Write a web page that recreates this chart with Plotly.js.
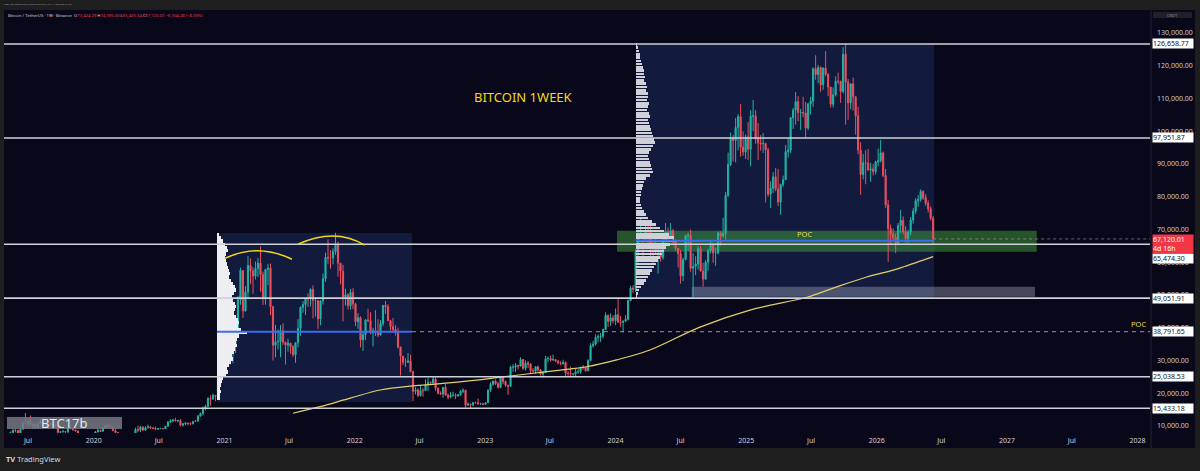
<!DOCTYPE html>
<html><head><meta charset="utf-8">
<script src="https://cdn.plot.ly/plotly-3.0.1.min.js"></script>
<style>html,body{margin:0;padding:0;background:#1e1e1e;}#chart{width:1200px;height:471px;}</style>
</head><body><div id="chart"></div>
<script>
// ================= DATA =================
const firstWeek = '2019-04-29';   // Monday of first weekly candle
const firstOpenK = 5.27;
// weekly highs / lows / closes in thousands USDT (one row per year)
const weekHighK = [
 5.90,7.45,8.32,8.95,9.07,8.80,9.35,11.30,13.97,12.00,13.20,11.10,10.65,11.08,12.33,11.47,10.95,10.63,10.95,10.50,10.35,10.06,8.49,8.84,8.40,10.54,9.90,9.50,8.85,8.50,7.87,7.75,7.62,7.52,7.70,7.50,
 8.47,9.19,8.88,9.59,10.17,10.50,10.25,9.70,9.19,8.18,6.90,6.85,7.20,7.46,7.30,7.79,9.50,10.07,9.95,9.85,9.96,10.43,10.05,9.63,9.80,9.35,9.47,9.29,9.98,11.45,12.09,12.07,12.47,11.80,12.09,10.80,11.18,10.99,11.08,11.49,11.72,13.35,14.09,15.96,16.48,18.80,19.42,19.92,19.43,24.30,27.00,33.30,
 41.95,40.10,37.85,38.60,40.95,49.71,58.35,57.53,52.64,61.84,61.18,58.50,60.20,61.30,64.85,57.20,58.00,59.50,59.60,46.66,40.90,39.48,40.78,41.33,35.75,36.68,35.10,34.70,35.50,42.60,46.45,48.14,49.05,50.50,52.00,52.92,48.84,48.38,48.36,56.56,62.93,67.00,63.71,64.25,69.00,66.28,59.50,59.20,51.94,50.50,51.88,52.10,
 47.57,44.45,43.50,38.92,42.60,45.82,44.75,40.00,45.40,42.59,42.33,46.90,48.19,47.20,42.43,42.98,40.80,40.02,34.30,31.33,30.66,32.22,31.77,26.90,21.87,21.55,22.50,21.66,24.28,24.67,23.65,25.21,25.13,21.80,20.58,21.86,22.80,19.96,20.35,20.47,19.95,19.70,20.99,21.48,21.06,17.19,16.80,17.39,17.43,18.39,17.06,16.94,
 17.18,21.26,23.37,23.82,24.25,23.47,25.25,25.02,23.89,22.60,28.39,28.87,29.19,28.78,31.00,30.48,30.04,29.82,29.15,27.66,28.26,28.45,27.40,26.80,31.43,31.28,31.50,31.80,30.40,30.10,29.74,30.24,29.69,26.83,28.14,26.12,27.48,27.49,28.05,28.58,28.00,30.35,35.28,35.98,37.98,37.93,38.41,39.70,44.70,44.05,44.40,43.80,
 45.88,48.97,43.58,42.25,43.88,48.60,52.82,52.99,64.00,69.99,73.78,68.92,71.77,71.34,72.80,66.87,67.23,64.73,65.50,67.70,71.98,70.60,71.95,70.20,66.99,62.79,63.78,61.42,68.38,68.99,70.00,62.75,61.84,65.00,64.96,59.81,60.67,64.13,66.50,65.55,64.48,69.40,69.52,73.62,81.50,93.47,99.59,98.87,104.09,105.25,108.35,99.96,98.98,
 102.72,106.42,109.59,106.46,102.50,98.83,99.47,96.50,95.00,84.72,87.47,88.75,88.50,83.99,86.49,95.76,97.90,104.36,107.10,111.98,110.72,106.80,110.53,108.95,108.53,110.53,119.50,123.22,120.25,119.80,119.50,124.47,117.63,113.50,113.38,116.78,117.90,115.47,125.71,126.65877,115.97,114.00,116.40,110.80,107.50,96.64,93.09,94.17,94.60,90.40,90.00,91.00,
 94.70,97.30,93.80,88.50,79.00,71.50,70.30,68.80,72.00,76.00,74.00,71.00,69.90,73.80,76.50,79.60,80.50,82.30,82.00,80.80,78.90,77.00,74.095
];
const weekLowK = [
 5.20,5.62,6.87,7.53,8.10,7.43,7.52,8.95,10.30,9.61,10.10,9.07,9.11,9.38,10.78,9.42,9.74,9.32,10.30,9.85,9.56,7.71,7.86,8.00,7.92,7.30,8.98,8.67,8.32,6.79,6.53,7.20,7.05,6.44,7.08,6.87,
 7.35,8.12,8.24,8.34,9.12,9.90,9.30,8.45,7.98,3.78,4.44,5.68,5.86,6.75,6.46,6.81,7.68,8.12,8.16,8.64,8.63,9.27,9.26,9.10,8.82,8.94,9.05,9.05,9.12,9.92,10.99,11.13,11.37,11.12,9.88,9.82,10.20,10.14,10.37,10.52,11.22,11.40,12.88,13.20,14.83,15.76,16.19,18.10,17.57,19.03,21.82,26.08,
 27.68,30.42,28.85,29.24,32.30,37.35,47.00,43.00,44.95,49.28,53.27,50.31,54.75,55.47,51.00,47.00,47.04,53.00,43.83,30.00,31.00,33.38,31.00,34.80,28.80,32.70,32.08,31.02,29.28,34.00,37.50,44.60,43.90,46.35,46.51,42.83,43.37,39.60,40.75,47.10,54.05,59.55,58.00,59.40,62.28,55.60,53.26,42.00,46.75,45.50,45.56,45.68,
 40.50,39.65,34.01,32.92,36.25,41.70,38.00,34.32,37.45,37.16,37.55,40.50,44.20,42.11,39.20,38.53,37.58,33.71,25.40,28.63,28.02,29.30,26.56,17.62,19.63,18.78,19.04,18.91,20.74,20.71,22.42,22.66,20.76,19.60,19.52,18.54,19.32,18.13,18.47,19.00,18.19,18.90,19.24,20.05,15.59,16.25,15.48,16.00,16.85,16.56,16.40,16.33,
 16.50,17.10,20.40,22.29,22.50,21.45,21.53,22.75,21.97,19.55,21.92,26.60,26.52,27.20,28.17,27.13,26.94,27.66,25.81,26.35,25.87,26.60,25.35,24.80,26.26,29.50,29.70,29.95,29.51,28.86,28.59,28.70,25.17,25.35,25.33,25.37,24.90,26.01,26.00,27.16,26.56,26.78,29.85,33.94,34.52,35.56,35.63,36.78,39.45,40.22,40.54,41.30,
 40.75,41.50,40.28,38.55,41.80,42.26,48.15,50.52,50.90,59.00,68.20,60.77,66.43,64.49,60.66,59.60,62.79,56.55,60.19,60.75,66.10,66.62,67.60,65.08,63.38,58.40,53.48,54.26,60.63,63.45,57.12,49.00,56.08,57.80,57.20,52.55,54.58,57.49,62.68,59.83,58.95,62.40,65.06,67.47,66.83,79.97,89.38,90.79,90.50,94.15,92.23,92.52,91.53,
 91.20,89.26,100.05,96.15,91.23,94.09,93.39,78.26,80.05,76.60,81.13,81.64,77.15,74.51,83.00,85.15,91.97,93.38,100.72,102.00,103.07,100.37,104.30,98.20,100.35,105.10,107.42,115.74,114.72,112.00,112.65,116.80,110.68,107.25,107.27,110.61,114.38,108.65,111.55,102.00,103.53,106.67,106.30,98.94,93.00,80.60,85.27,83.82,87.80,84.50,86.55,86.80,
 89.30,90.50,86.00,76.50,60.10,65.50,66.80,62.80,65.20,69.00,68.50,66.00,65.90,68.20,71.80,74.80,77.00,78.50,79.00,77.20,75.20,72.80,65.42034
];
const weekCloseK = [
 5.72,6.97,8.00,8.73,8.65,7.63,8.98,10.85,10.82,11.47,10.19,10.58,9.48,10.81,11.28,10.21,10.14,10.37,10.33,10.30,10.04,8.05,8.21,8.31,8.23,9.55,9.20,8.80,8.50,7.05,7.40,7.51,7.08,7.51,7.25,7.36,
 8.18,8.70,8.37,9.35,10.15,9.92,9.66,8.53,8.03,5.36,5.82,5.88,6.78,6.86,7.12,7.70,8.88,8.72,9.68,8.72,9.45,9.67,9.38,9.30,9.01,9.23,9.23,9.16,9.93,11.19,11.58,11.85,11.64,11.71,10.26,10.68,10.92,10.77,10.67,11.38,11.50,13.03,13.80,15.48,15.96,18.41,18.18,19.36,19.15,23.85,26.47,32.17,
 38.15,35.83,32.26,34.26,38.80,48.58,57.49,45.14,50.97,59.02,57.35,55.78,58.12,59.75,56.20,49.07,57.80,58.24,46.43,34.66,35.68,35.80,39.10,35.60,34.70,35.29,34.26,31.78,35.40,39.86,46.29,47.07,48.95,48.81,51.75,48.31,48.30,42.70,48.20,54.95,61.53,61.31,61.30,63.27,65.50,59.70,57.27,49.38,50.10,46.70,50.80,47.30,
 41.86,43.08,36.28,37.92,42.41,42.20,38.40,39.10,38.42,37.78,41.26,46.83,46.41,42.16,40.38,39.45,38.47,34.07,31.33,29.45,29.45,29.91,26.58,20.57,21.03,19.30,20.85,20.79,22.58,23.29,23.17,24.31,21.51,20.03,19.80,21.83,19.42,18.81,19.31,19.42,19.20,19.57,20.61,20.91,16.33,16.70,16.45,17.13,17.10,16.76,16.84,16.61,
 17.13,20.88,22.71,23.73,22.93,21.78,24.64,23.56,22.43,22.13,27.98,27.99,28.45,28.32,30.30,27.59,29.23,28.91,26.93,26.75,28.08,27.11,25.84,26.34,30.53,30.59,30.17,30.29,29.85,29.29,29.06,29.41,26.09,26.01,25.86,25.88,26.53,26.53,27.98,27.92,26.85,29.99,34.53,35.01,37.06,37.36,37.45,39.46,43.80,41.93,43.00,42.15,
 43.94,41.73,41.58,42.03,42.58,48.30,52.14,51.73,63.11,68.36,68.39,67.21,69.65,69.36,65.66,64.94,63.12,63.89,61.48,66.27,69.29,67.77,69.64,66.22,64.25,62.68,55.85,60.80,68.16,68.25,58.16,58.71,59.49,64.16,57.30,54.84,59.99,63.58,65.63,62.84,62.85,69.00,68.00,68.75,80.44,89.85,97.90,97.19,101.17,104.46,95.19,93.71,98.31,
 94.52,104.56,104.74,97.70,96.46,96.15,96.26,94.27,80.73,82.58,86.08,82.39,78.37,83.76,85.18,93.75,94.28,104.12,106.45,109.03,105.70,105.73,105.55,100.96,108.39,109.20,119.09,117.30,119.45,114.20,119.29,117.40,113.49,108.25,111.14,115.27,115.23,112.15,123.51,115.07,108.64,114.47,110.54,104.72,94.26,86.83,90.40,90.29,88.20,88.50,87.70,90.60,
 91.00,93.40,86.50,77.50,70.30,68.50,67.50,65.80,71.20,72.80,69.30,67.20,69.20,72.90,75.60,78.80,79.20,81.60,79.80,78.00,76.30,73.42429,67.12001
];

// horizontal levels drawn across the chart
const levelPrices = [126658.77, 97951.87, 65474.30, 49051.91, 25038.53, 15433.18];
const levelLabels = ['126,658.77','97,951.87','65,474.30','49,051.91','25,038.53','15,433.18'];
const pocOldPrice = 38791.65, pocOldLabel = '38,791.65';
const pocNewPrice = 66600;
const lastPrice = 67120.01, lastPriceLabel = '67,120.01', candleTimer = '4d 16h';

// volume profile 1 (Dec 2020 – Jun 2022): bin centres (k) and relative volume
const profileOldPricesK = [68.5,67.5,66.5,65.5,64.5,63.5,62.5,61.5,60.5,59.5,58.5,57.5,56.5,55.5,54.5,53.5,52.5,51.5,50.5,49.5,48.5,47.5,46.5,45.5,44.5,43.5,42.5,41.5,40.5,39.5,38.5,37.5,36.5,35.5,34.5,33.5,32.5,31.5,30.5,29.5,28.5,27.5,26.5,25.5,24.5,23.5,22.5,21.5,20.5,19.5,18.5];
const profileOldVol = [2,4,6,8,10,11,9,8,9,10,11,12,13,12,14,16,18,19,17,15,16,18,19,18,17,19,21,22,21,24,30,22,20,19,20,18,17,15,16,14,12,10,11,9,6,5,4,3,4,3,3];
// volume profile 2 (Feb 2024 – Jun 2026)
const profileNewPricesK = [126.5,125.5,124.5,123.5,122.5,121.5,120.5,119.5,118.5,117.5,116.5,115.5,114.5,113.5,112.5,111.5,110.5,109.5,108.5,107.5,106.5,105.5,104.5,103.5,102.5,101.5,100.5,99.5,98.5,97.5,96.5,95.5,94.5,93.5,92.5,91.5,90.5,89.5,88.5,87.5,86.5,85.5,84.5,83.5,82.5,81.5,80.5,79.5,78.5,77.5,76.5,75.5,74.5,73.5,72.5,71.5,70.5,69.5,68.5,67.5,66.5,65.5,64.5,63.5,62.5,61.5,60.5,59.5,58.5,57.5,56.5,55.5,54.5,53.5,52.5,51.5,50.5,49.5];
const profileNewVol = [1,2,3,4,4,5,6,7,8,8,9,8,10,11,10,12,12,11,13,12,11,13,14,12,13,14,15,16,17,18,19,17,15,13,12,13,14,15,16,17,14,10,8,7,6,5,5,4,4,5,6,8,10,12,16,20,24,28,33,38,40,34,30,28,26,24,22,20,18,16,14,12,10,8,5,3,2,1];

// long moving average
const maDates  = ['2021-07-12','2021-09-26','2021-12-19','2022-03-13','2022-06-05','2022-08-08','2022-11-10','2023-02-12','2023-05-15','2023-08-17','2023-10-12','2024-01-04','2024-04-06','2024-08-24','2025-01-11','2025-06-19','2025-09-01','2025-12-04','2026-02-16','2026-03-20','2026-06-08'];
const maValues = [13900,15900,18500,21000,22200,22700,23700,24900,26100,27300,28100,30200,33200,40200,45400,49300,52100,55500,57600,58700,61700];

// axes
const xTickVals = ['2019-07-01','2020-01-01','2020-07-01','2021-01-01','2021-07-01','2022-01-01','2022-07-01','2023-01-01','2023-07-01','2024-01-01','2024-07-01','2025-01-01','2025-07-01','2026-01-01','2026-07-01','2027-01-01','2027-07-01','2028-01-01'];
const xTickText = ['Jul','2020','Jul','2021','Jul','2022','Jul','2023','Jul','2024','Jul','2025','Jul','2026','Jul','2027','Jul','2028'];
const yTickVals = [10000,20000,30000,40000,50000,60000,70000,80000,90000,100000,110000,120000,130000];
const yTickText = ['10,000.00','20,000.00','30,000.00','40,000.00','50,000.00','60,000.00','70,000.00','80,000.00','90,000.00','100,000.00','110,000.00','120,000.00','130,000.00'];
const xRange = ['2019-04-25','2028-02-05'];
const yRange = [7863, 137023];

// drawings: boxes [x0,x1,y0,y1]
const boxOld = ['2020-12-11','2022-06-10',17330,68930];
const boxNew = ['2024-02-27','2026-06-11',49051.91,126658.77];
const pocZone = ['2024-01-05','2027-03-25',63220,69630];
const grayZone = ['2024-08-01','2027-03-20',49480,52540];
// arcs: start, peak, end as [date, price]
const arcs = [
  [['2021-01-03',61200],['2021-04-06',63530],['2021-07-09',60900]],
  [['2021-07-27',65570],['2021-11-02',68015],['2022-01-28',65270]]
];

// ================= BUILD =================
const UP = '#22b3a2', DN = '#e8505f', FONT = 'Noto Sans, DejaVu Sans, sans-serif';
const W = 1200, H = 471, M = {l:4, r:50, t:10, b:38};
const pw = W - M.l - M.r, ph = H - M.t - M.b;
const px2x = p => (p - M.l) / pw, px2y = p => (H - M.b - p) / ph;
const X0 = Date.parse(xRange[0]), X1 = Date.parse(xRange[1]);
const d2x = d => (Date.parse(d) - X0) / (X1 - X0);
const v2y = v => (v - yRange[0]) / (yRange[1] - yRange[0]);

const closes = weekCloseK.map(v => v * 1000);
const highs = weekHighK.map(v => v * 1000);
const lows = weekLowK.map(v => v * 1000);
const opens = closes.map((c, i) => i === 0 ? firstOpenK * 1000 : closes[i - 1]);
const t0 = Date.parse(firstWeek);
const dates = closes.map((_, i) => new Date(t0 + i * 7 * 86400000).toISOString().slice(0, 10));
const lastDate = dates[dates.length - 1];

function volRange(leftDate) { const f = d2x(leftDate); return [-f * pw, (1 - f) * pw]; }

const traces = [
  {type:'candlestick', x:dates, open:opens, high:highs, low:lows, close:closes,
   increasing:{line:{color:UP, width:1}, fillcolor:UP},
   decreasing:{line:{color:DN, width:1}, fillcolor:DN},
   whiskerwidth:0, hoverinfo:'skip', showlegend:false},
  {type:'scatter', mode:'lines', x:maDates, y:maValues, line:{color:'#e2cf6a', width:1.2, shape:'spline'},
   hoverinfo:'skip', showlegend:false},
  {type:'bar', orientation:'h', y:profileOldPricesK.map(v => v * 1000), x:profileOldVol, width:1000,
   marker:{color:'#eeeef2', line:{width:0}}, xaxis:'x2', yaxis:'y', hoverinfo:'skip', showlegend:false},
  {type:'bar', orientation:'h', y:profileNewPricesK.map(v => v * 1000), x:profileNewVol, width:780,
   marker:{color:'#cfd0d8', line:{width:0}}, xaxis:'x3', yaxis:'y', hoverinfo:'skip', showlegend:false}
];

const shapes = [];
// pane background
shapes.push({type:'rect', xref:'paper', yref:'paper', x0:px2x(4), x1:px2x(1195), y0:px2y(448), y1:1,
  fillcolor:'#09081a', line:{width:0}, layer:'below'});
// boxes
[boxOld, boxNew].forEach(b => shapes.push({type:'rect', xref:'x', yref:'y', x0:b[0], x1:b[1], y0:b[2], y1:b[3],
  fillcolor:'#121a3e', line:{width:0}, layer:'below'}));
shapes.push({type:'rect', xref:'x', yref:'y', x0:pocZone[0], x1:pocZone[1], y0:pocZone[2], y1:pocZone[3],
  fillcolor:'rgba(62,150,58,0.55)', line:{width:0}, layer:'below'});
shapes.push({type:'rect', xref:'x', yref:'y', x0:grayZone[0], x1:grayZone[1], y0:grayZone[2], y1:grayZone[3],
  fillcolor:'rgba(170,175,195,0.38)', line:{width:0}, layer:'below'});
// last price dotted line
shapes.push({type:'line', xref:'x', yref:'y', x0:lastDate, x1:xRange[1], y0:lastPrice, y1:lastPrice,
  line:{color:'rgba(200,160,175,0.55)', width:1, dash:'dot'}, layer:'below'});
// horizontal levels
levelPrices.forEach(p => shapes.push({type:'line', xref:'paper', yref:'y', x0:0, x1:1, y0:p, y1:p,
  line:{color:'#cfd1d8', width:1.6}, layer:'above'}));
// POC lines
shapes.push({type:'line', xref:'x', yref:'y', x0:boxOld[0], x1:boxOld[1], y0:pocOldPrice, y1:pocOldPrice,
  line:{color:'#3a6df0', width:2}, layer:'above'});
shapes.push({type:'line', xref:'x', yref:'y', x0:boxOld[1], x1:xRange[1], y0:pocOldPrice, y1:pocOldPrice,
  line:{color:'#9598a1', width:1, dash:'4px,4px'}, layer:'above'});
shapes.push({type:'line', xref:'x', yref:'y', x0:boxNew[0], x1:boxNew[1], y0:pocNewPrice, y1:pocNewPrice,
  line:{color:'#3a6df0', width:2}, layer:'above'});
// arcs
arcs.forEach(a => {
  const [s, p, e] = a.map(q => [d2x(q[0]), v2y(q[1])]);
  const cx = 2 * p[0] - (s[0] + e[0]) / 2, cy = 2 * p[1] - (s[1] + e[1]) / 2;
  shapes.push({type:'path', xref:'paper', yref:'paper',
    path:`M ${s[0]},${s[1]} Q ${cx},${cy} ${e[0]},${e[1]}`,
    line:{color:'#f0d817', width:1.6}, layer:'above'});
});
// BTC17b label box
shapes.push({type:'rect', xref:'paper', yref:'paper', x0:px2x(7), x1:px2x(122), y0:px2y(429), y1:px2y(417),
  fillcolor:'rgba(118,121,132,0.85)', line:{width:0}, layer:'above'});
// price-scale separator & USDT box
shapes.push({type:'line', xref:'paper', yref:'paper', x0:px2x(1151), x1:px2x(1151), y0:px2y(448), y1:1,
  line:{color:'#22232e', width:1}, layer:'above'});
shapes.push({type:'rect', xref:'paper', yref:'paper', x0:px2x(1153), x1:px2x(1192), y0:px2y(18), y1:px2y(12),
  fillcolor:'#1f2029', line:{width:0}, layer:'above'});

const annotations = [];
const lab = (text, y, opts = {}) => Object.assign({xref:'paper', yref:'y', x:px2x(1152), xanchor:'left', y:y, yanchor:'middle',
  text:text, showarrow:false, bgcolor:'#ffffff', width:40, height:9, align:'left', borderpad:0,
  font:{family:FONT, size:7, color:'#131722'}}, opts);
levelPrices.forEach((p, i) => annotations.push(lab(levelLabels[i], p, i === 2 ? {yshift:-14} : {})));
annotations.push(lab(pocOldLabel, pocOldPrice));
annotations.push(lab(lastPriceLabel + '<br>' + candleTimer, lastPrice,
  {bgcolor:'#f23645', height:18, yshift:-5, font:{family:FONT, size:7, color:'#ffffff'}}));
const pa = (text, xpx, ypx, xanchor, font) => ({xref:'paper', yref:'paper', x:px2x(xpx), y:px2y(ypx),
  xanchor:xanchor, yanchor:'middle', text:text, showarrow:false, font:font});
annotations.push(pa('USDT', 1172, 15, 'center', {family:FONT, size:4, color:'#9598a1'}));
// chart texts
annotations.push({xref:'x', yref:'y', x:'2023-04-17', y:110460, xanchor:'center', yanchor:'middle', text:'BITCOIN 1WEEK', showarrow:false,
  font:{family:FONT, size:13, color:'#f2d91a'}});
annotations.push({xref:'x', yref:'y', x:'2025-06-14', y:pocNewPrice, xanchor:'center', yanchor:'bottom', text:'POC', showarrow:false,
  font:{family:FONT, size:7.5, color:'#e9dc55'}});
annotations.push({xref:'paper', yref:'y', x:px2x(1148), xanchor:'right', y:pocOldPrice, yanchor:'bottom', yshift:1, text:'POC', showarrow:false,
  font:{family:FONT, size:7.5, color:'#e9dc55'}});
annotations.push(pa('BTC17b', 64.5, 423, 'center', {family:FONT, size:13, color:'#e8e8ec'}));
// header
annotations.push(pa('TSBP_08 created with TradingView.com, Jun 11, 2026 08:13 UTC', 2, 4.5, 'left',
  {family:FONT, size:2.3, color:'#9a9ca5'}));
const R = s => `<span style="color:#f23645">${s}</span>`;
annotations.push(pa('Bitcoin / TetherUS · 1W · Binance  O' + R('73,424.29') + ' H' + R('74,095.00') + ' L' + R('65,420.34') + ' C' + R('67,120.01') + ' ' + R('−6,304.28 (−8.59%)'),
  6, 15, 'left', {family:FONT, size:4.2, color:'#d1d4dc'}));
// footer
annotations.push(pa('<b>TV</b> TradingView', 4, 459.5, 'left', {family:FONT, size:7.5, color:'#d8dae0'}));

const layout = {
  width:W, height:H, margin:M, paper_bgcolor:'#1e1e1e', plot_bgcolor:'rgba(0,0,0,0)',
  showlegend:false, hovermode:false, dragmode:false, bargap:0, boxgap:0.35,
  xaxis:{type:'date', range:xRange, tickmode:'array', tickvals:xTickVals, ticktext:xTickText,
    tickfont:{family:FONT, size:7, color:'#d1d4dc'}, showgrid:false, zeroline:false, showline:false,
    ticks:'', ticklabelstandoff:2, rangeslider:{visible:false}, fixedrange:true},
  xaxis2:{overlaying:'x', anchor:'y', range:volRange(boxOld[0]), visible:false, fixedrange:true},
  xaxis3:{overlaying:'x', anchor:'y', range:volRange(boxNew[0]), visible:false, fixedrange:true},
  yaxis:{side:'right', range:yRange, tickmode:'array', tickvals:yTickVals, ticktext:yTickText,
    tickfont:{family:FONT, size:7, color:'#c9cbd2'}, showgrid:false, zeroline:false, showline:false,
    ticks:'', ticklabelstandoff:6, fixedrange:true},
  shapes:shapes, annotations:annotations
};
Plotly.newPlot('chart', traces, layout, {staticPlot:true, displayModeBar:false});
</script>
</body></html>
